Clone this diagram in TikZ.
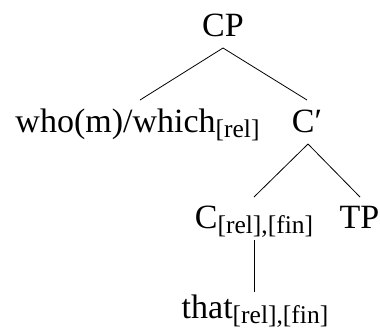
\documentclass[tikz,border=0pt]{standalone}
\usepackage{fontspec}
\setmainfont{Liberation Serif}
\newcommand\sbx[1]{\raisebox{-5pt}{\fontsize{25.5}{30}\selectfont #1}}
\tikzset{lbl/.style={anchor=base,inner sep=0pt,font=\fontsize{34}{40}\selectfont},
  edge/.style={line width=0.8pt}}
\begin{document}
\begin{tikzpicture}[x=1pt,y=-1pt]
\useasboundingbox (0,0) rectangle (380,333);
\node[lbl] (cp) at (223,36) {CP};
\node[lbl] (who) at (137.5,132) {who(m)/which\sbx{[rel]}};
\node[lbl] (cbar) at (307,132) {C′};
\node[lbl] (crel) at (254,228) {C\sbx{[rel],[fin]}};
\node[lbl] (tp) at (359.5,228) {TP};
\node[lbl] (that) at (255,318) {that\sbx{[rel],[fin]}};
\draw[edge] ([yshift=-12pt]cp.base) -- ([xshift=2.5pt,yshift=32pt]who.base);
\draw[edge] ([yshift=-12pt]cp.base) -- ([yshift=32pt]cbar.base);
\draw[edge] ([xshift=1pt,yshift=-12pt]cbar.base) -- ([yshift=31pt]crel.base);
\draw[edge] ([xshift=1pt,yshift=-12pt]cbar.base) -- ([xshift=0.5pt,yshift=31pt]tp.base);
\draw[edge] ([yshift=-12pt]crel.base) -- ([xshift=-1pt,yshift=26pt]that.base);
\end{tikzpicture}
\end{document}
